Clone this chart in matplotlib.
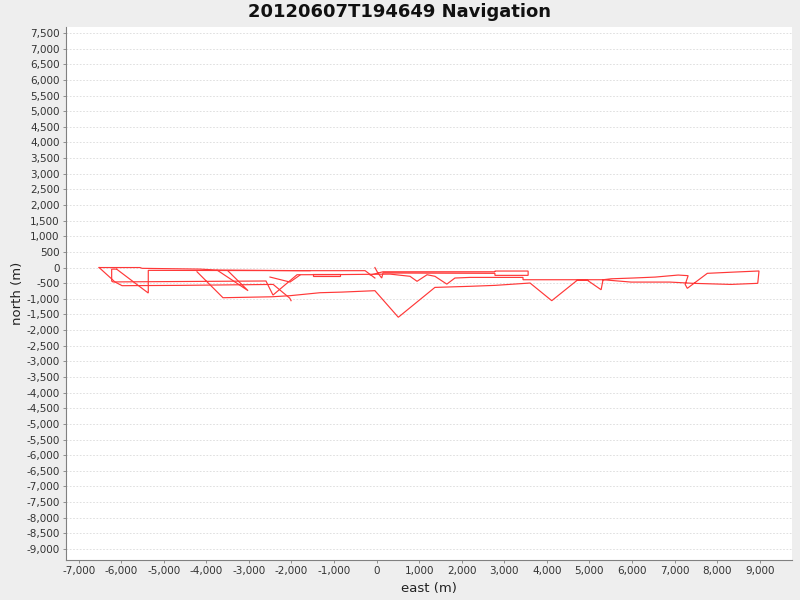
import numpy as np
import matplotlib
matplotlib.use("Agg")
import matplotlib.pyplot as plt
from matplotlib.ticker import FuncFormatter, MultipleLocator

# Track segments (east, north in metres)
seg_top_east = [-6520, -5560, -5510, -4150, -3750, -1800, -270, -40]
seg_top_north = [0, 0, -25, -50, -80, -100, -100, -335]

seg_west_east = [-6520, -6220, -6150, -5980, -4620, -2430, -2040, -2010]
seg_west_north = [0, -370, -460, -580, -570, -540, -980, -1060]

seg_main_east = [-6110, -6225, -6225, -6195, -2600, -2435, -1870, -860, 315, 785,
                 950, 1185, 1370, 1650, 1840, 2195, 3440, 3440, 5320, 5510,
                 6025, 6545, 7085, 7320, 7250, 7300, 7770, 8400, 8985, 8955,
                 8325, 7440, 6895, 5980, 5320, 5275, 4945, 4710, 4115, 3605,
                 2785, 2195, 1370, 510, -40, -815, -1330, -2035, -2460, -3610,
                 -4220]
seg_main_north = [-50, -50, -430, -460, -430, -880, -230, -225, -210, -280,
                  -440, -230, -280, -530, -335, -315, -315, -390, -390, -360,
                  -335, -305, -240, -260, -540, -665, -185, -145, -110, -505,
                  -540, -505, -465, -465, -390, -710, -400, -410, -1060, -495,
                  -570, -600, -635, -1590, -740, -785, -805, -900, -935, -965,
                  -135]

seg_diag_east = [-6110, -5365, -5365, -1565]
seg_diag_north = [-50, -815, -90, -100]

seg_cross_east = [-3750, -3020, -3490]
seg_cross_north = [-80, -740, -110]

seg_origin_east = [-40, 30, 120, 150, 2780, 2780, 3560, 3560, 2780, 2780, 150, -150]
seg_origin_north = [0, -175, -335, -175, -185, -250, -250, -112, -112, -135, -135, -240]

seg_box_east = [-1490, -860, -860, -1490, -1490]
seg_box_north = [-210, -210, -270, -270, -235]

seg_v_east = [-2505, -2035, -1800]
seg_v_north = [-304, -464, -240]

segments = [
    (seg_top_east, seg_top_north),
    (seg_west_east, seg_west_north),
    (seg_main_east, seg_main_north),
    (seg_diag_east, seg_diag_north),
    (seg_cross_east, seg_cross_north),
    (seg_origin_east, seg_origin_north),
    (seg_box_east, seg_box_north),
    (seg_v_east, seg_v_north),
]

title = "20120607T194649 Navigation"
x_label = "east (m)"
y_label = "north (m)"

plt.rcParams['font.family'] = ['DejaVu Sans']

fig = plt.figure(figsize=(8, 6), dpi=100, facecolor='#EEEEEE')
ax = fig.add_axes([66 / 800, 1 - 560 / 600, (792 - 66) / 800, (560 - 27) / 600])
ax.set_facecolor('white')

for e, n in segments:
    ax.plot(e, n, color='#FF3838', lw=0.85, solid_joinstyle='miter')

ax.set_xlim(-7298, 9760)
ax.set_ylim(-9352, 7692)
ax.xaxis.set_major_locator(MultipleLocator(1000))
ax.yaxis.set_major_locator(MultipleLocator(500))
fmt = FuncFormatter(lambda v, p: f"{int(round(v)):,}")
ax.xaxis.set_major_formatter(fmt)
ax.yaxis.set_major_formatter(fmt)

ax.grid(axis='y', color='#DADADA', linestyle=(0, (2, 2)), lw=0.6)
ax.set_axisbelow(True)

for s in ['top', 'right']:
    ax.spines[s].set_visible(False)
for s in ['left', 'bottom']:
    ax.spines[s].set_color('#808080')
    ax.spines[s].set_linewidth(0.8)

ax.tick_params(axis='both', labelsize=7.5, colors='#808080', length=2.5, width=0.6,
               labelcolor='#333333', pad=2)

fig.suptitle(title, x=0.5, y=1 - 12 / 600, va='center', fontsize=13,
             fontweight='bold', color='#111111')
ax.set_xlabel(x_label, fontsize=9.5, color='#222222', labelpad=4)
ax.set_ylabel(y_label, fontsize=9.5, color='#222222', labelpad=2)

fig.savefig('out.png', dpi=100, facecolor=fig.get_facecolor())
